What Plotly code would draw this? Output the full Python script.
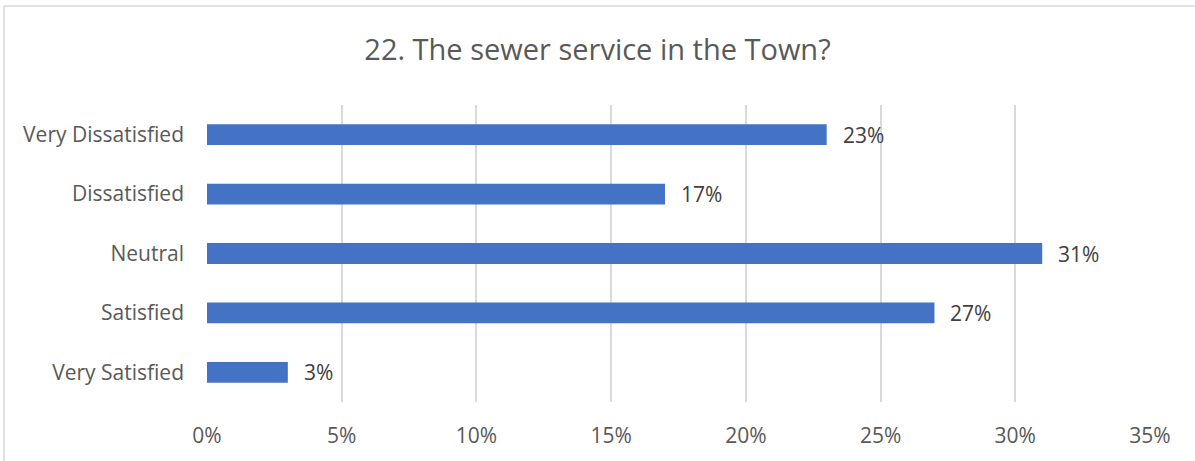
import plotly.graph_objects as go

categories = ["Very Satisfied", "Satisfied", "Neutral", "Dissatisfied", "Very Dissatisfied"]
shares = [3, 27, 31, 17, 23]
x_ticks = [0, 5, 10, 15, 20, 25, 30, 35]
x_tick_labels = ["0%", "5%", "10%", "15%", "20%", "25%", "30%", "35%"]

W, H = 1195, 461
ML, MR, MT, MB = 207, 45, 105, 56
pw, ph = W - ML - MR, H - MT - MB
FONT = "Open Sans, sans-serif"

fig = go.Figure(
    go.Bar(
        x=shares,
        y=categories,
        orientation="h",
        marker=dict(color="#4472C4", line=dict(width=0)),
        hoverinfo="x+y",
    )
)

# value labels placed just past the end of each bar
for cat, v in zip(categories, shares):
    fig.add_annotation(
        x=v, y=cat, xref="x", yref="y",
        text=f"{v}%", showarrow=False,
        xanchor="left", yanchor="middle", xshift=14,
        font=dict(family=FONT, size=21, color="#404040"),
    )

# chart frame: thin grey edges along the top and left
frame = dict(type="line", xref="paper", yref="paper", line=dict(color="#d9d9d9", width=1.5))
fig.add_shape(**frame, x0=(4 - ML) / pw, x1=(W + 5 - ML) / pw, y0=(H - MB - 5) / ph, y1=(H - MB - 5) / ph)
fig.add_shape(**frame, x0=(4 - ML) / pw, x1=(4 - ML) / pw, y0=(H - MB - 5) / ph, y1=-(MB + 5) / ph)

fig.update_layout(
    width=W,
    height=H,
    margin=dict(l=ML, r=MR, t=MT, b=MB),
    paper_bgcolor="white",
    plot_bgcolor="white",
    bargap=0.65,
    showlegend=False,
    title=dict(
        text="22. The sewer service in the Town?",
        x=0.5,
        xref="container",
        xanchor="center",
        y=(H - 50) / H,
        yanchor="middle",
        font=dict(family=FONT, size=29, color="#595959"),
    ),
    xaxis=dict(
        range=[0, 35],
        tickvals=x_ticks,
        ticktext=x_tick_labels,
        showgrid=True,
        gridcolor="#d9d9d9",
        gridwidth=1.5,
        zeroline=False,
        showline=False,
        ticks="",
        ticklabelstandoff=19,
        tickfont=dict(family=FONT, size=21, color="#595959"),
    ),
    yaxis=dict(
        showgrid=False,
        zeroline=False,
        showline=False,
        ticks="",
        ticklabelstandoff=22,
        tickfont=dict(family=FONT, size=21, color="#595959"),
    ),
)

fig.write_html("out.html")
